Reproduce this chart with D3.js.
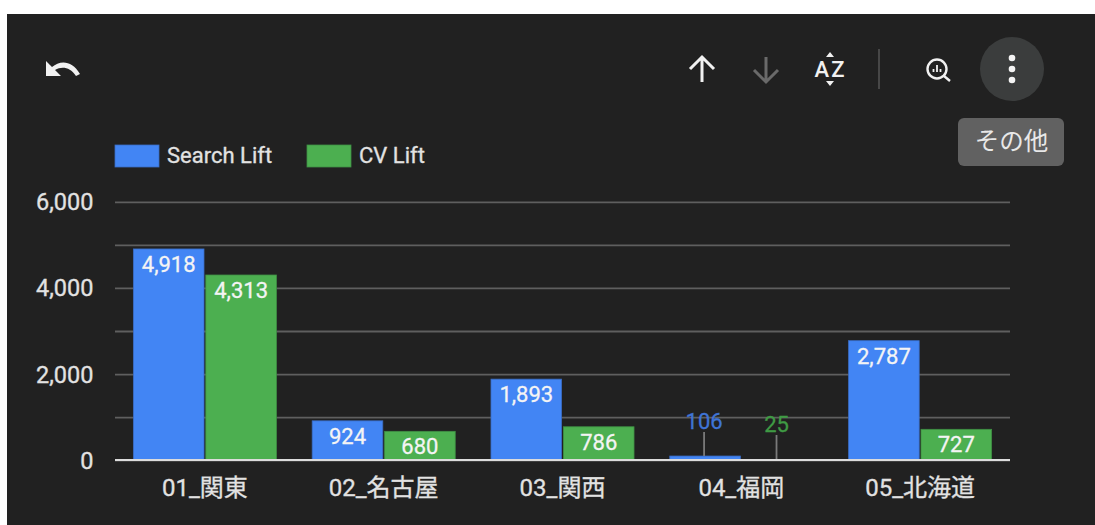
<!DOCTYPE html>
<html>

<head>
  <meta charset="utf8">
  <script src="https://d3js.org/d3.v7.min.js"></script>
  <style>
    html, body { margin: 0; padding: 0; background: #fff; overflow: hidden; }
    text { font-family: Roboto, "Noto Sans CJK JP", sans-serif; }
    .axis-label { fill: #e2e2e2; stroke: #e2e2e2; stroke-width: 0.3; font-size: 23.5px; }
    .cat-label { font-size: 24px; }
    .legend-label { fill: #e2e2e2; stroke: #e2e2e2; stroke-width: 0.3; font-size: 22px; }
    .icon { fill: none; stroke: #f1f1f1; stroke-width: 3; }
  </style>
</head>

<body>
  <svg id="chart" width="1095" height="525"></svg>
  <script>
    var categories = ['01_関東', '02_名古屋', '03_関西', '04_福岡', '05_北海道'];
    var searchLift = [4918, 924, 1893, 106, 2787];
    var cvLift = [4313, 680, 786, 25, 727];
    var seriesNames = ['Search Lift', 'CV Lift'];
    var yTicks = [0, 2000, 4000, 6000];
    var gridTicks = [0, 1000, 2000, 3000, 4000, 5000, 6000];
    var colors = ['#4285f4', '#4caf50'];
    var borderColors = ['#3a6cc4', '#3f8f44'];
    var outsideColors = ['#3f74d6', '#3f9a44'];

    var chart = d3.select('#chart');
    chart.append('rect').attr('x', 7).attr('y', 14).attr('width', 1088).attr('height', 511).attr('fill', '#212121');

    var x = d3.scaleBand().domain(categories).range([115.5, 1009.5]).paddingInner(0.2).paddingOuter(0.1);
    var xSeries = d3.scaleBand().domain(seriesNames).range([0, x.bandwidth()]).paddingInner(0.025);
    var y = d3.scaleLinear().domain([0, 6000]).range([460.6, 202.4]);

    // grid
    chart.append('g').selectAll('line').data(gridTicks).enter().append('line')
      .attr('x1', 115).attr('x2', 1010)
      .attr('y1', (d) => y(d)).attr('y2', (d) => y(d))
      .attr('stroke', '#5f5f5f').attr('stroke-width', 1.8);

    chart.append('g').selectAll('text').data(yTicks).enter().append('text')
      .attr('class', 'axis-label')
      .attr('x', 93.5).attr('y', (d) => y(d) + 8)
      .attr('text-anchor', 'end')
      .text(d3.format(','));

    // bars
    var rows = categories.map((c, i) => ({ cat: c, values: [searchLift[i], cvLift[i]] }));
    var groups = chart.append('g').selectAll('g').data(rows).enter().append('g')
      .attr('transform', (d) => 'translate(' + x(d.cat) + ',0)');

    seriesNames.forEach((name, s) => {
      var mid = xSeries(name) + xSeries.bandwidth() / 2;
      // outside labels sit a little lower for the second series
      var outsideBase = s == 0 ? 429 : 432;

      groups.append('rect')
        .attr('x', xSeries(name))
        .attr('width', xSeries.bandwidth())
        .attr('y', (d) => y(d.values[s]))
        .attr('height', (d) => y(0) - y(d.values[s]))
        .attr('fill', colors[s])
        .attr('stroke', borderColors[s]).attr('stroke-width', 0.8);

      // small bars get their label above with a leader line
      groups.filter((d) => d.values[s] < 300).append('line')
        .attr('x1', mid - 1)
        .attr('x2', mid - 1)
        .attr('y1', (d) => y(d.values[s]))
        .attr('y2', outsideBase + 3)
        .attr('stroke', '#7a7a7a').attr('stroke-width', 1.8);

      groups.append('text')
        .attr('x', (d) => d.values[s] < 300 ? mid - 1 : mid)
        .attr('y', (d) => d.values[s] < 300 ? outsideBase : y(d.values[s]) + 23)
        .attr('text-anchor', 'middle')
        .attr('font-size', 22)
        .attr('stroke-width', 0.3)
        .attr('stroke', (d) => d.values[s] < 300 ? outsideColors[s] : '#f4f4f4')
        .attr('fill', (d) => d.values[s] < 300 ? outsideColors[s] : '#f4f4f4')
        .text((d) => d3.format(',')(d.values[s]));
    });

    // x axis
    chart.append('line').attr('x1', 115).attr('x2', 1010).attr('y1', 460).attr('y2', 460)
      .attr('stroke', '#dcdcdc').attr('stroke-width', 2);
    chart.append('g').selectAll('text').data(categories).enter().append('text')
      .attr('class', 'axis-label cat-label')
      .attr('x', (d) => x(d) + x.bandwidth() / 2).attr('y', 496)
      .attr('text-anchor', 'middle')
      .text((d) => d);

    // legend
    var legendX = [115, 307];
    seriesNames.forEach((name, i) => {
      chart.append('rect').attr('x', legendX[i]).attr('y', 145).attr('width', 44).attr('height', 22)
        .attr('fill', colors[i]).attr('stroke', borderColors[i]).attr('stroke-width', 0.8);
      chart.append('text').attr('class', 'legend-label').attr('x', legendX[i] + 52).attr('y', 163).text(name);
    });

    // toolbar
    chart.append('path').attr('d', 'M46 76 V61 L52 67 C60 60 72 60 80 74 L76 76 C70 67 62 66 55 70 L61 76 Z').attr('fill', '#f1f1f1');
    chart.append('path').attr('class', 'icon').attr('d', 'M702 82 V57 M690 69 L702 57 L714 69');
    chart.append('path').attr('class', 'icon').attr('style', 'stroke:#6a6a6a').attr('d', 'M766 57 V82 M754 70 L766 82 L778 70');
    chart.append('text').attr('x', 830.5).attr('y', 77).attr('text-anchor', 'middle').attr('font-size', 22).attr('font-weight', 500)
      .attr('letter-spacing', 2).attr('fill', '#f1f1f1').text('AZ');
    chart.append('path').attr('d', 'M826 57 L830 52 L834 57 Z M826 81 L830 86 L834 81 Z').attr('fill', '#f1f1f1');
    chart.append('line').attr('x1', 879).attr('x2', 879).attr('y1', 49).attr('y2', 89).attr('stroke', '#555').attr('stroke-width', 1.5);
    chart.append('circle').attr('cx', 937).attr('cy', 69).attr('r', 9.5).attr('class', 'icon').attr('style', 'stroke-width:2.4');
    chart.append('path').attr('class', 'icon').attr('style', 'stroke-width:2.4').attr('d', 'M944 76 L950 81');
    chart.append('path').attr('class', 'icon').attr('style', 'stroke-width:1.8').attr('d', 'M933.5 72 V69 M937 72 V65 M940.5 72 V69');
    chart.append('circle').attr('cx', 1012).attr('cy', 69).attr('r', 32).attr('fill', '#3b3d3d');
    [58, 69, 80].forEach((cy) => chart.append('circle').attr('cx', 1012).attr('cy', cy).attr('r', 3.3).attr('fill', '#f4f4f4'));
    chart.append('rect').attr('x', 958).attr('y', 118).attr('width', 106).attr('height', 48).attr('rx', 6).attr('fill', '#616161');
    chart.append('text').attr('x', 1011.5).attr('y', 150).attr('text-anchor', 'middle').attr('font-size', 24.5).attr('fill', '#e8e8e8').text('その他');
  </script>
</body>

</html>
